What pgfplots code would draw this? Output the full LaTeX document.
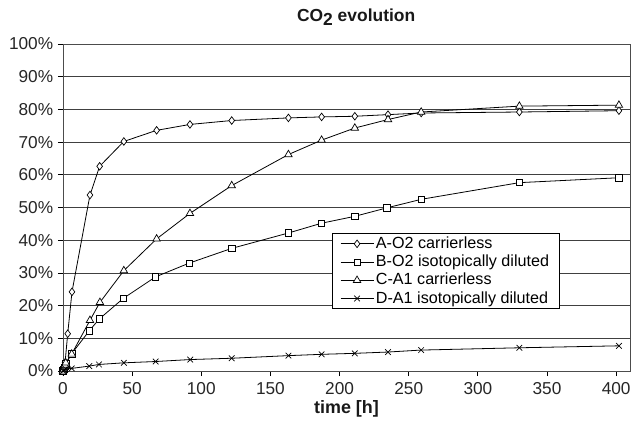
\documentclass[border=0pt]{standalone}
\usepackage{fontspec}
\setmainfont{Liberation Sans}
\usepackage{pgfplots}
\pgfplotsset{compat=1.18}

\begin{document}
\begin{tikzpicture}
\fontsize{17}{20}\selectfont
\path[use as bounding box] (0,0) rectangle (633bp,423bp);
\begin{axis}[at={(63bp,52bp)},anchor=south west,scale only axis,width=567bp,height=327bp,
  xmin=0,xmax=410,ymin=0,ymax=100,
  xtick={0,50,100,150,200,250,300,350,400},
  xticklabels={0,50,100,150,200,250,300,350,400},
  ytick={0,10,20,30,40,50,60,70,80,90,100},
  yticklabels={0\%,10\%,20\%,30\%,40\%,50\%,60\%,70\%,80\%,90\%,100\%},
  tick align=outside,major tick length=5bp,
  tick style={black,line width=0.8pt},
  xtick pos=bottom,ytick pos=left,
  ymajorgrids,grid style={black!75,line width=0.7pt},
  axis line style={black!70,line width=0.8pt},
  tick label style={font=\fontsize{17.3}{20}\selectfont,text=black!85},
  yticklabel style={xshift=1bp},
  xticklabel style={yshift=-1bp},
  title={\bfseries CO\raisebox{-4.5bp}{2} evolution},
  title style={at={(0.517,1)},anchor=base,yshift=17bp,font=\fontsize{17.5}{20}\selectfont,text=black!90},
  xlabel={\bfseries time [h]},
  xlabel style={at={(0.5,0)},anchor=base,yshift=-42bp,font=\fontsize{18}{20}\selectfont,text=black!90},
  legend style={at={(0.474,0.421)},anchor=north west,draw=black,line width=0.8pt,
    font=\fontsize{16.2}{20}\selectfont,row sep=0bp,inner xsep=8bp,inner ysep=1bp},
  legend cell align=left,
  legend image code/.code={\draw (0bp,0bp) -- (33bp,0bp);\draw plot coordinates {(16.5bp,0bp)};},
]
\addplot[black,line width=0.8pt,mark=diamond*,mark size=3.8pt,mark options={fill=white,line width=0.7pt}] coordinates {(0,0) (0.5,0.8) (1,1.6) (1.5,2.6) (3.4,11.4) (6.5,24.2) (19.5,53.8) (26.5,62.6) (44,70.2) (67.7,73.6) (91.8,75.4) (122,76.6) (163,77.4) (187,77.7) (211,77.9) (235,78.4) (259,78.9) (330,79.2) (402,79.6)};
\addlegendentry{A-O2 carrierless}
\addplot[black,line width=0.8pt,mark=square*,mark size=3.2pt,mark options={fill=white,line width=0.7pt}] coordinates {(0,0) (0.5,0.5) (1,1.0) (1.5,1.6) (2,2.2) (6.3,5.3) (19,12.3) (26.2,15.9) (43.6,22.2) (67,28.8) (91.3,33) (122,37.5) (163,42.2) (187,45.2) (211,47.3) (234.3,49.9) (259,52.5) (330,57.6) (402,59.1)};
\addlegendentry{B-O2 isotopically diluted}
\addplot[black,line width=0.8pt,mark=triangle*,mark size=4.3pt,mark options={fill=white,line width=0.7pt}] coordinates {(0,0) (0.5,0.6) (1,1.2) (1.5,1.8) (2,2.5) (6.3,5.2) (19.5,15.5) (26.7,21) (44,30.7) (67.7,40.4) (91.8,48.2) (122,56.7) (163,66.2) (187,70.6) (211,74.3) (235,76.9) (259,79.2) (330,81) (402,81.3)};
\addlegendentry{C-A1 carrierless}
\addplot[black,line width=0.8pt,mark=x,mark size=4pt,mark options={line width=0.7pt}] coordinates {(0,0) (0.5,0.2) (1,0.4) (2,0.6) (6.3,0.8) (19,1.5) (26,2.0) (44,2.5) (67,2.9) (92,3.5) (122,3.9) (163,4.7) (187,5.1) (211,5.4) (235,5.8) (259,6.4) (330,7.1) (402,7.7)};
\addlegendentry{D-A1 isotopically diluted}
\end{axis}
\end{tikzpicture}
\end{document}
